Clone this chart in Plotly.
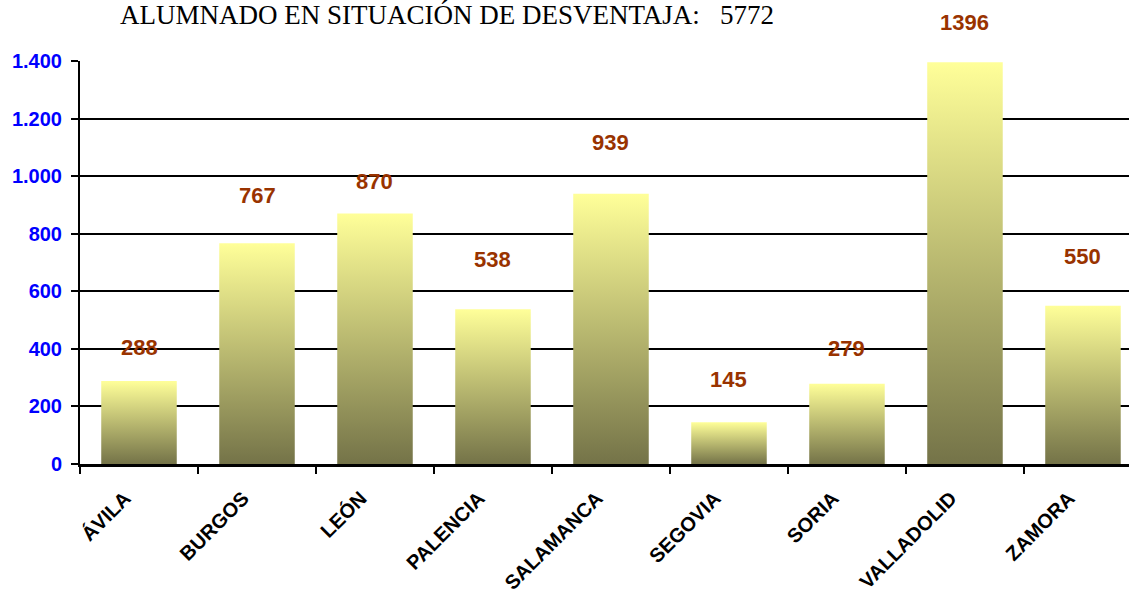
import plotly.graph_objects as go

# Data
provincias = ["ÁVILA", "BURGOS", "LEÓN", "PALENCIA", "SALAMANCA",
              "SEGOVIA", "SORIA", "VALLADOLID", "ZAMORA"]
alumnos = [288, 767, 870, 538, 939, 145, 279, 1396, 550]
y_ticks = [0, 200, 400, 600, 800, 1000, 1200, 1400]
total = 5772

# styling
BAR_W = 0.64
LABEL_SHIFT = [34, 48, 32, 50, 51, 43, 35, 40, 49]   # px above bar top
GRADIENT = [[0, "#747348"], [1, "#FFFF99"]]

fig = go.Figure()

# bars as filled polygons so each can carry a vertical gradient
for i, (name, val) in enumerate(zip(provincias, alumnos)):
    x0, x1 = i - BAR_W / 2, i + BAR_W / 2
    fig.add_trace(go.Scatter(
        x=[x0, x0, x1, x1, x0], y=[0, val, val, 0, 0],
        mode="lines", fill="toself",
        line=dict(width=0, color="rgba(0,0,0,0)"),
        fillgradient=dict(type="vertical", colorscale=GRADIENT),
        name=name, hoverinfo="skip", showlegend=False
    ))
    fig.add_annotation(
        x=i, y=val, text=f"<b>{val}</b>", showarrow=False,
        yanchor="middle", yshift=LABEL_SHIFT[i],
        font=dict(family="Liberation Sans, Arial", size=22, color="#993300")
    )

fig.update_layout(
    width=1129, height=592,
    margin=dict(l=80, r=0, t=61, b=128),
    paper_bgcolor="white", plot_bgcolor="white",
    separators=",.",
    showlegend=False,
    title=dict(
        text=f"ALUMNADO EN SITUACIÓN DE DESVENTAJA:\u00a0\u00a0\u00a0{total}",
        xref="container", yref="container", x=0.396, y=1 - 15 / 592,
        xanchor="center", yanchor="middle",
        font=dict(family="Liberation Serif, Times New Roman", size=27, color="black")
    ),
    xaxis=dict(
        range=[-0.5, 8.39], showgrid=False, zeroline=False, automargin=False,
        tickmode="array", tickvals=list(range(len(provincias))),
        ticktext=[f"<b>{p}</b>" for p in provincias],
        ticks="", tickangle=-45, ticklabelshift=-14, ticklabelstandoff=12,
        tickfont=dict(family="Liberation Sans, Arial", size=20, color="black"),
        showline=True, linecolor="black", linewidth=2.5,
        minor=dict(tickmode="array",
                   tickvals=[i - 0.5 for i in range(len(provincias) + 1)],
                   ticks="outside", ticklen=7, tickwidth=2, tickcolor="black",
                   showgrid=False),
    ),
    yaxis=dict(
        range=[0, 1400], tickmode="array", tickvals=y_ticks, automargin=False,
        tickformat=",d", ticks="outside", ticklen=7, tickwidth=2,
        tickcolor="black", ticklabelstandoff=5,
        tickfont=dict(family="Liberation Sans, Arial", size=20, color="#0000FF",
                      weight="bold"),
        showgrid=True, gridcolor="black", gridwidth=2,
        zeroline=False, showline=True, linecolor="black", linewidth=2,
    ),
)

fig.write_html("out.html", config={"displayModeBar": False},
               post_script="document.body.style.margin='0';")
